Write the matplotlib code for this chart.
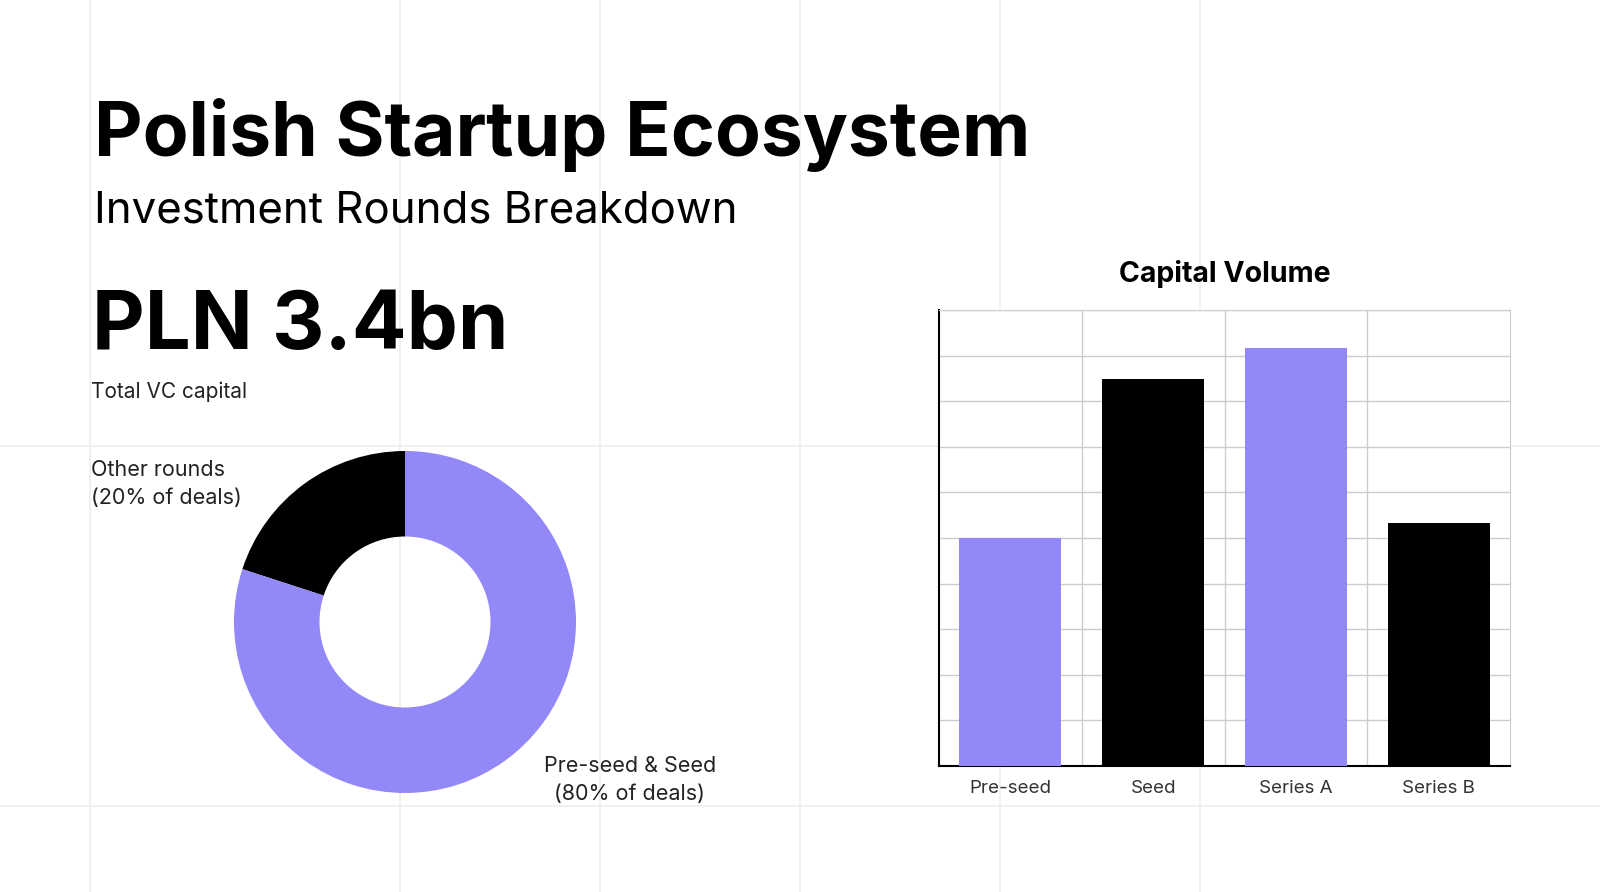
import matplotlib.pyplot as plt

plt.rcParams['font.family'] = ['Inter', 'DejaVu Sans']

# data
donut_labels = ['Other rounds\n(20% of deals)', 'Pre-seed & Seed\n(80% of deals)']
donut_shares = [20, 80]
rounds = ['Pre-seed', 'Seed', 'Series A', 'Series B']
capital = [5.0, 8.48, 9.17, 5.32]

purple = '#9388F8'
W, H = 1600, 892

fig = plt.figure(figsize=(16, 8.92), dpi=100)
fig.patch.set_facecolor('white')

# faint background grid
bg = fig.add_axes([0, 0, 1, 1], zorder=-10)
bg.set_xlim(0, W)
bg.set_ylim(H, 0)
bg.axis('off')
for x in [90, 400, 600, 800, 1000, 1200]:
    bg.axvline(x, color='#eeeeee', lw=1.2)
for y in [446, 806]:
    bg.axhline(y, color='#eeeeee', lw=1.2)

# texts
fig.text(94 / W, 1 - 135 / H, 'Polish Startup Ecosystem', fontsize=54, fontweight='bold', va='center')
fig.text(94 / W, 1 - 211 / H, 'Investment Rounds Breakdown', fontsize=31.5, va='center')
fig.text(92 / W, 1 - 328 / H, 'PLN 3.4bn', fontsize=58.5, fontweight='bold', va='center')
fig.text(91 / W, 1 - 392 / H, 'Total VC capital', fontsize=15, va='center', color='#222222')
fig.text(91 / W, 1 - 484 / H, donut_labels[0], fontsize=15.5, va='center', color='#222222', linespacing=1.5)
fig.text(630 / W, 1 - 780 / H, donut_labels[1], fontsize=15.5, va='center', ha='center',
         color='#222222', linespacing=1.5)

# donut
r = 171
ax1 = fig.add_axes([(405 - r) / W, 1 - (622 + r) / H, 2 * r / W, 2 * r / H])
ax1.pie(donut_shares, colors=['black', purple], startangle=90, counterclock=True,
        wedgeprops=dict(width=0.5, edgecolor='none'), radius=1)
ax1.set_xlim(-1, 1)
ax1.set_ylim(-1, 1)
ax1.set_aspect('equal')

# bar chart
ax2 = fig.add_axes([939 / W, 1 - 766 / H, 571 / W, 456 / H])
ax2.bar(range(len(rounds)), capital, width=0.714, color=[purple, 'black', purple, 'black'], zorder=3)
ax2.set_xlim(-0.5, len(rounds) - 0.5)
ax2.set_ylim(0, 10)
ax2.set_yticks(range(11))
ax2.set_yticklabels([])
ax2.tick_params(axis='y', length=0)
ax2.set_xticks([0.5, 1.5, 2.5])
ax2.grid(True, color='#cccccc', lw=1, zorder=0)
ax2.set_xticklabels([])
ax2.tick_params(axis='x', length=0)
for i, name in enumerate(rounds):
    ax2.text(i, -0.5, name, ha='center', va='center', fontsize=13.5, color='#333333')
for s in ['top', 'right']:
    ax2.spines[s].set_color('#cccccc')
for s in ['left', 'bottom']:
    ax2.spines[s].set_color('black')
    ax2.spines[s].set_linewidth(1.5)
ax2.set_title('Capital Volume', fontsize=20.5, fontweight='bold', pad=20)

fig.savefig('out.png', dpi=100, facecolor='white')
